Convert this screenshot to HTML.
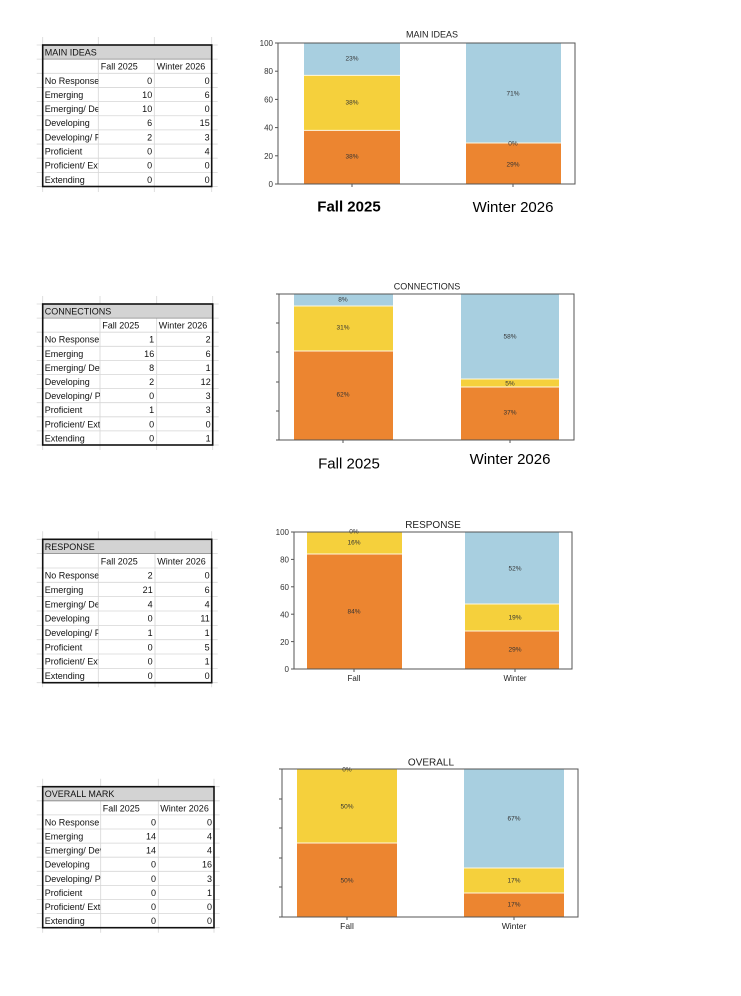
<!DOCTYPE html>
<html><head><meta charset="utf-8">
<style>
html,body{margin:0;padding:0;background:#fff;}
svg{display:block;}
text{font-family:"Liberation Sans",sans-serif;}
.tt{font-size:9px;fill:#111;}
.gx{stroke:#d6d6d6;stroke-width:0.8;}
.pl{font-size:6.5px;fill:#333;text-anchor:middle;}
.yl{font-size:8px;fill:#333;text-anchor:end;}
.sp{fill:none;stroke:#555;stroke-width:1;}
.tk{stroke:#555;stroke-width:1;}
.sep{stroke:#fff8e0;stroke-width:1;}
</style></head>
<body>
<svg width="741" height="996" viewBox="0 0 741 996" xmlns="http://www.w3.org/2000/svg">
<defs>
<clipPath id="c1a" clipPathUnits="userSpaceOnUse"><rect x="0" y="0" width="55.6" height="142"/></clipPath>
<clipPath id="c1b" clipPathUnits="userSpaceOnUse"><rect x="0" y="0" width="57.3" height="142"/></clipPath>
<clipPath id="c1d" clipPathUnits="userSpaceOnUse"><rect x="0" y="0" width="58" height="142"/></clipPath>
</defs>

<!-- ============ TABLE 1: MAIN IDEAS ============ -->
<g transform="translate(42.7,45)">
  <g class="gx">
    <line x1="-6" y1="0" x2="175" y2="0"/><line x1="-6" y1="14.15" x2="175" y2="14.15"/><line x1="-6" y1="28.3" x2="175" y2="28.3"/><line x1="-6" y1="42.45" x2="175" y2="42.45"/><line x1="-6" y1="56.6" x2="175" y2="56.6"/><line x1="-6" y1="70.75" x2="175" y2="70.75"/><line x1="-6" y1="84.9" x2="175" y2="84.9"/><line x1="-6" y1="99.05" x2="175" y2="99.05"/><line x1="-6" y1="113.2" x2="175" y2="113.2"/><line x1="-6" y1="127.35" x2="175" y2="127.35"/><line x1="-6" y1="141.5" x2="175" y2="141.5"/>
    <line x1="0" y1="-8" x2="0" y2="147"/><line x1="55.6" y1="-8" x2="55.6" y2="147"/><line x1="111.6" y1="-8" x2="111.6" y2="147"/><line x1="169" y1="-8" x2="169" y2="147"/>
  </g>
  <rect x="0" y="0" width="169" height="14.15" fill="#d3d3d3"/>
  <line x1="0" y1="14.15" x2="169" y2="14.15" stroke="#888" stroke-width="0.8"/>
  <rect x="0" y="0" width="169" height="141.5" fill="none" stroke="#111" stroke-width="1.6"/>
  <text class="tt" x="2" y="10.5">MAIN IDEAS</text>
  <text class="tt" x="58" y="24.6">Fall 2025</text>
  <text class="tt" x="114" y="24.6">Winter 2026</text>
  <g clip-path="url(#c1a)">
    <text class="tt" x="2" y="38.8">No Response</text>
    <text class="tt" x="2" y="52.9">Emerging</text>
    <text class="tt" x="2" y="67.1">Emerging/ Developing</text>
    <text class="tt" x="2" y="81.2">Developing</text>
    <text class="tt" x="2" y="95.4">Developing/ Proficient</text>
    <text class="tt" x="2" y="109.5">Proficient</text>
    <text class="tt" x="2" y="123.7">Proficient/ Extending</text>
    <text class="tt" x="2" y="137.8">Extending</text>
  </g>
  <g text-anchor="end">
    <text class="tt" x="109.5" y="38.8">0</text><text class="tt" x="167" y="38.8">0</text>
    <text class="tt" x="109.5" y="52.9">10</text><text class="tt" x="167" y="52.9">6</text>
    <text class="tt" x="109.5" y="67.1">10</text><text class="tt" x="167" y="67.1">0</text>
    <text class="tt" x="109.5" y="81.2">6</text><text class="tt" x="167" y="81.2">15</text>
    <text class="tt" x="109.5" y="95.4">2</text><text class="tt" x="167" y="95.4">3</text>
    <text class="tt" x="109.5" y="109.5">0</text><text class="tt" x="167" y="109.5">4</text>
    <text class="tt" x="109.5" y="123.7">0</text><text class="tt" x="167" y="123.7">0</text>
    <text class="tt" x="109.5" y="137.8">0</text><text class="tt" x="167" y="137.8">0</text>
  </g>
</g>

<!-- ============ TABLE 2: CONNECTIONS ============ -->
<g transform="translate(42.7,304)">
  <g class="gx">
    <line x1="-6" y1="0" x2="176" y2="0"/><line x1="-6" y1="14.1" x2="176" y2="14.1"/><line x1="-6" y1="28.2" x2="176" y2="28.2"/><line x1="-6" y1="42.3" x2="176" y2="42.3"/><line x1="-6" y1="56.4" x2="176" y2="56.4"/><line x1="-6" y1="70.5" x2="176" y2="70.5"/><line x1="-6" y1="84.6" x2="176" y2="84.6"/><line x1="-6" y1="98.7" x2="176" y2="98.7"/><line x1="-6" y1="112.8" x2="176" y2="112.8"/><line x1="-6" y1="126.9" x2="176" y2="126.9"/><line x1="-6" y1="141" x2="176" y2="141"/>
    <line x1="0" y1="-8" x2="0" y2="146"/><line x1="57.3" y1="-8" x2="57.3" y2="146"/><line x1="114" y1="-8" x2="114" y2="146"/><line x1="170" y1="-8" x2="170" y2="146"/>
  </g>
  <rect x="0" y="0" width="170" height="14.1" fill="#d3d3d3"/>
  <line x1="0" y1="14.1" x2="170" y2="14.1" stroke="#888" stroke-width="0.8"/>
  <rect x="0" y="0" width="170" height="141" fill="none" stroke="#111" stroke-width="1.6"/>
  <text class="tt" x="2" y="10.5">CONNECTIONS</text>
  <text class="tt" x="59.5" y="24.6">Fall 2025</text>
  <text class="tt" x="116" y="24.6">Winter 2026</text>
  <g clip-path="url(#c1b)">
    <text class="tt" x="2" y="38.7">No Response</text>
    <text class="tt" x="2" y="52.8">Emerging</text>
    <text class="tt" x="2" y="66.9">Emerging/ Developing</text>
    <text class="tt" x="2" y="81">Developing</text>
    <text class="tt" x="2" y="95.1">Developing/ Proficient</text>
    <text class="tt" x="2" y="109.2">Proficient</text>
    <text class="tt" x="2" y="123.3">Proficient/ Extending</text>
    <text class="tt" x="2" y="137.4">Extending</text>
  </g>
  <g text-anchor="end">
    <text class="tt" x="111.5" y="38.7">1</text><text class="tt" x="168" y="38.7">2</text>
    <text class="tt" x="111.5" y="52.8">16</text><text class="tt" x="168" y="52.8">6</text>
    <text class="tt" x="111.5" y="66.9">8</text><text class="tt" x="168" y="66.9">1</text>
    <text class="tt" x="111.5" y="81">2</text><text class="tt" x="168" y="81">12</text>
    <text class="tt" x="111.5" y="95.1">0</text><text class="tt" x="168" y="95.1">3</text>
    <text class="tt" x="111.5" y="109.2">1</text><text class="tt" x="168" y="109.2">3</text>
    <text class="tt" x="111.5" y="123.3">0</text><text class="tt" x="168" y="123.3">0</text>
    <text class="tt" x="111.5" y="137.4">0</text><text class="tt" x="168" y="137.4">1</text>
  </g>
</g>

<!-- ============ TABLE 3: RESPONSE ============ -->
<g transform="translate(42.7,539.3)">
  <g class="gx">
    <line x1="-6" y1="0" x2="175" y2="0"/><line x1="-6" y1="14.34" x2="175" y2="14.34"/><line x1="-6" y1="28.68" x2="175" y2="28.68"/><line x1="-6" y1="43.02" x2="175" y2="43.02"/><line x1="-6" y1="57.36" x2="175" y2="57.36"/><line x1="-6" y1="71.7" x2="175" y2="71.7"/><line x1="-6" y1="86.04" x2="175" y2="86.04"/><line x1="-6" y1="100.38" x2="175" y2="100.38"/><line x1="-6" y1="114.72" x2="175" y2="114.72"/><line x1="-6" y1="129.06" x2="175" y2="129.06"/><line x1="-6" y1="143.4" x2="175" y2="143.4"/>
    <line x1="0" y1="-8" x2="0" y2="148"/><line x1="55.6" y1="-8" x2="55.6" y2="148"/><line x1="112.3" y1="-8" x2="112.3" y2="148"/><line x1="169" y1="-8" x2="169" y2="148"/>
  </g>
  <rect x="0" y="0" width="169" height="14.34" fill="#d3d3d3"/>
  <line x1="0" y1="14.34" x2="169" y2="14.34" stroke="#888" stroke-width="0.8"/>
  <rect x="0" y="0" width="169" height="143.4" fill="none" stroke="#111" stroke-width="1.6"/>
  <text class="tt" x="2" y="10.6">RESPONSE</text>
  <text class="tt" x="58" y="25">Fall 2025</text>
  <text class="tt" x="114.5" y="25">Winter 2026</text>
  <g clip-path="url(#c1a)">
    <text class="tt" x="2" y="39.3">No Response</text>
    <text class="tt" x="2" y="53.7">Emerging</text>
    <text class="tt" x="2" y="68">Emerging/ Developing</text>
    <text class="tt" x="2" y="82.4">Developing</text>
    <text class="tt" x="2" y="96.7">Developing/ Proficient</text>
    <text class="tt" x="2" y="111">Proficient</text>
    <text class="tt" x="2" y="125.4">Proficient/ Extending</text>
  </g>
  <text class="tt" x="2" y="139.7">Extending</text>
  <g text-anchor="end">
    <text class="tt" x="110" y="39.3">2</text><text class="tt" x="167" y="39.3">0</text>
    <text class="tt" x="110" y="53.7">21</text><text class="tt" x="167" y="53.7">6</text>
    <text class="tt" x="110" y="68">4</text><text class="tt" x="167" y="68">4</text>
    <text class="tt" x="110" y="82.4">0</text><text class="tt" x="167" y="82.4">11</text>
    <text class="tt" x="110" y="96.7">1</text><text class="tt" x="167" y="96.7">1</text>
    <text class="tt" x="110" y="111">0</text><text class="tt" x="167" y="111">5</text>
    <text class="tt" x="110" y="125.4">0</text><text class="tt" x="167" y="125.4">1</text>
    <text class="tt" x="110" y="139.7">0</text><text class="tt" x="167" y="139.7">0</text>
  </g>
</g>

<!-- ============ TABLE 4: OVERALL MARK ============ -->
<g transform="translate(42.7,786.7)">
  <g class="gx">
    <line x1="-6" y1="0" x2="177" y2="0"/><line x1="-6" y1="14.1" x2="177" y2="14.1"/><line x1="-6" y1="28.2" x2="177" y2="28.2"/><line x1="-6" y1="42.3" x2="177" y2="42.3"/><line x1="-6" y1="56.4" x2="177" y2="56.4"/><line x1="-6" y1="70.5" x2="177" y2="70.5"/><line x1="-6" y1="84.6" x2="177" y2="84.6"/><line x1="-6" y1="98.7" x2="177" y2="98.7"/><line x1="-6" y1="112.8" x2="177" y2="112.8"/><line x1="-6" y1="126.9" x2="177" y2="126.9"/><line x1="-6" y1="141" x2="177" y2="141"/>
    <line x1="0" y1="-8" x2="0" y2="146"/><line x1="58" y1="-8" x2="58" y2="146"/><line x1="115.6" y1="-8" x2="115.6" y2="146"/><line x1="171.3" y1="-8" x2="171.3" y2="146"/>
  </g>
  <rect x="0" y="0" width="171.3" height="14.1" fill="#d3d3d3"/>
  <line x1="0" y1="14.1" x2="171.3" y2="14.1" stroke="#888" stroke-width="0.8"/>
  <rect x="0" y="0" width="171.3" height="141" fill="none" stroke="#111" stroke-width="1.6"/>
  <text class="tt" x="2" y="10.5">OVERALL MARK</text>
  <text class="tt" x="60" y="24.6">Fall 2025</text>
  <text class="tt" x="117.6" y="24.6">Winter 2026</text>
  <g clip-path="url(#c1d)">
    <text class="tt" x="2" y="38.7">No Response</text>
    <text class="tt" x="2" y="52.8">Emerging</text>
    <text class="tt" x="2" y="66.9">Emerging/ Developing</text>
    <text class="tt" x="2" y="81">Developing</text>
    <text class="tt" x="2" y="95.1">Developing/ Proficient</text>
    <text class="tt" x="2" y="109.2">Proficient</text>
    <text class="tt" x="2" y="123.3">Proficient/ Extending</text>
    <text class="tt" x="2" y="137.4">Extending</text>
  </g>
  <g text-anchor="end">
    <text class="tt" x="113.3" y="38.7">0</text><text class="tt" x="169.3" y="38.7">0</text>
    <text class="tt" x="113.3" y="52.8">14</text><text class="tt" x="169.3" y="52.8">4</text>
    <text class="tt" x="113.3" y="66.9">14</text><text class="tt" x="169.3" y="66.9">4</text>
    <text class="tt" x="113.3" y="81">0</text><text class="tt" x="169.3" y="81">16</text>
    <text class="tt" x="113.3" y="95.1">0</text><text class="tt" x="169.3" y="95.1">3</text>
    <text class="tt" x="113.3" y="109.2">0</text><text class="tt" x="169.3" y="109.2">1</text>
    <text class="tt" x="113.3" y="123.3">0</text><text class="tt" x="169.3" y="123.3">0</text>
    <text class="tt" x="113.3" y="137.4">0</text><text class="tt" x="169.3" y="137.4">0</text>
  </g>
</g>

<!-- ============ CHART 1: MAIN IDEAS ============ -->
<text x="432" y="37.5" font-size="9" fill="#222" text-anchor="middle">MAIN IDEAS</text>
<rect x="304" y="43" width="96" height="32.4" fill="#a8cfe0"/>
<rect x="304" y="75.4" width="96" height="55" fill="#f5d03c"/>
<rect x="304" y="130.4" width="96" height="53.6" fill="#ec8530"/>
<line class="sep" x1="304" y1="75.4" x2="400" y2="75.4"/>
<line class="sep" x1="304" y1="130.4" x2="400" y2="130.4"/>
<rect x="466" y="43" width="95" height="100" fill="#a8cfe0"/>
<rect x="466" y="143" width="95" height="41" fill="#ec8530"/>
<line class="sep" x1="466" y1="143" x2="561" y2="143"/>
<rect class="sp" x="278" y="43" width="297" height="141"/>
<g class="tk">
<line x1="275" y1="184" x2="278" y2="184"/><line x1="275" y1="155.8" x2="278" y2="155.8"/><line x1="275" y1="127.6" x2="278" y2="127.6"/><line x1="275" y1="99.4" x2="278" y2="99.4"/><line x1="275" y1="71.2" x2="278" y2="71.2"/><line x1="275" y1="43" x2="278" y2="43"/>
<line x1="352" y1="184" x2="352" y2="187"/><line x1="513" y1="184" x2="513" y2="187"/>
</g>
<text class="yl" x="273" y="187">0</text>
<text class="yl" x="273" y="158.8">20</text>
<text class="yl" x="273" y="130.6">40</text>
<text class="yl" x="273" y="102.4">60</text>
<text class="yl" x="273" y="74.2">80</text>
<text class="yl" x="273" y="46">100</text>
<text class="pl" x="352" y="60.5">23%</text>
<text class="pl" x="352" y="104.5">38%</text>
<text class="pl" x="352" y="158.5">38%</text>
<text class="pl" x="513" y="95.5">71%</text>
<text class="pl" x="513" y="145.5">0%</text>
<text class="pl" x="513" y="166.5">29%</text>
<text x="349" y="211.5" font-size="15" font-weight="bold" fill="#000" text-anchor="middle">Fall 2025</text>
<text x="513" y="212" font-size="15" fill="#000" text-anchor="middle">Winter 2026</text>

<!-- ============ CHART 2: CONNECTIONS ============ -->
<text x="427" y="289.5" font-size="9" fill="#222" text-anchor="middle">CONNECTIONS</text>
<rect x="294" y="294" width="99" height="12" fill="#a8cfe0"/>
<rect x="294" y="306" width="99" height="45" fill="#f5d03c"/>
<rect x="294" y="351" width="99" height="89" fill="#ec8530"/>
<line class="sep" x1="294" y1="306" x2="393" y2="306"/>
<line class="sep" x1="294" y1="351" x2="393" y2="351"/>
<rect x="461" y="294" width="98" height="85" fill="#a8cfe0"/>
<rect x="461" y="379" width="98" height="8" fill="#f5d03c"/>
<rect x="461" y="387" width="98" height="53" fill="#ec8530"/>
<line class="sep" x1="461" y1="379" x2="559" y2="379"/>
<line class="sep" x1="461" y1="387" x2="559" y2="387"/>
<rect class="sp" x="279" y="294" width="295" height="146"/>
<g class="tk">
<line x1="276" y1="294" x2="279" y2="294"/><line x1="276" y1="323" x2="279" y2="323"/><line x1="276" y1="352" x2="279" y2="352"/><line x1="276" y1="382" x2="279" y2="382"/><line x1="276" y1="411" x2="279" y2="411"/><line x1="276" y1="440" x2="279" y2="440"/>
<line x1="343" y1="440" x2="343" y2="443"/><line x1="510" y1="440" x2="510" y2="443"/>
</g>
<text class="pl" x="343" y="301.3" font-size="7">8%</text>
<text class="pl" x="343" y="329.5" font-size="7">31%</text>
<text class="pl" x="343" y="396.5" font-size="7">62%</text>
<text class="pl" x="510" y="338.5" font-size="7">58%</text>
<text class="pl" x="510" y="385.3" font-size="7">5%</text>
<text class="pl" x="510" y="414.5" font-size="7">37%</text>
<text x="349" y="468.5" font-size="15" fill="#000" text-anchor="middle">Fall 2025</text>
<text x="510" y="464" font-size="15" fill="#000" text-anchor="middle">Winter 2026</text>

<!-- ============ CHART 3: RESPONSE ============ -->
<text x="433" y="528" font-size="10" fill="#222" text-anchor="middle">RESPONSE</text>
<rect x="307" y="532" width="95" height="22" fill="#f5d03c"/>
<rect x="307" y="554" width="95" height="115" fill="#ec8530"/>
<line class="sep" x1="307" y1="554" x2="402" y2="554"/>
<rect x="465" y="532" width="94" height="72" fill="#a8cfe0"/>
<rect x="465" y="604" width="94" height="27" fill="#f5d03c"/>
<rect x="465" y="631" width="94" height="38" fill="#ec8530"/>
<line class="sep" x1="465" y1="604" x2="559" y2="604"/>
<line class="sep" x1="465" y1="631" x2="559" y2="631"/>
<rect class="sp" x="294" y="532" width="278" height="137"/>
<g class="tk">
<line x1="291" y1="669" x2="294" y2="669"/><line x1="291" y1="641.6" x2="294" y2="641.6"/><line x1="291" y1="614.2" x2="294" y2="614.2"/><line x1="291" y1="586.8" x2="294" y2="586.8"/><line x1="291" y1="559.4" x2="294" y2="559.4"/><line x1="291" y1="532" x2="294" y2="532"/>
<line x1="354" y1="669" x2="354" y2="672"/><line x1="515" y1="669" x2="515" y2="672"/>
</g>
<text class="yl" x="289" y="672.2">0</text>
<text class="yl" x="289" y="644.8">20</text>
<text class="yl" x="289" y="617.4">40</text>
<text class="yl" x="289" y="590">60</text>
<text class="yl" x="289" y="562.6">80</text>
<text class="yl" x="289" y="535.2">100</text>
<text class="pl" x="354" y="533.3">0%</text>
<text class="pl" x="354" y="544.3">16%</text>
<text class="pl" x="354" y="613.3">84%</text>
<text class="pl" x="515" y="570.3">52%</text>
<text class="pl" x="515" y="619.3">19%</text>
<text class="pl" x="515" y="651.3">29%</text>
<text x="354" y="681" font-size="8" fill="#222" text-anchor="middle">Fall</text>
<text x="515" y="681" font-size="8" fill="#222" text-anchor="middle">Winter</text>

<!-- ============ CHART 4: OVERALL ============ -->
<text x="431" y="765.5" font-size="10" fill="#222" text-anchor="middle">OVERALL</text>
<rect x="297" y="769" width="100" height="74" fill="#f5d03c"/>
<rect x="297" y="843" width="100" height="74" fill="#ec8530"/>
<line class="sep" x1="297" y1="843" x2="397" y2="843"/>
<rect x="464" y="769" width="100" height="99" fill="#a8cfe0"/>
<rect x="464" y="868" width="100" height="25" fill="#f5d03c"/>
<rect x="464" y="893" width="100" height="24" fill="#ec8530"/>
<line class="sep" x1="464" y1="868" x2="564" y2="868"/>
<line class="sep" x1="464" y1="893" x2="564" y2="893"/>
<rect class="sp" x="282" y="769" width="296" height="148"/>
<g class="tk">
<line x1="279" y1="769" x2="282" y2="769"/><line x1="279" y1="799" x2="282" y2="799"/><line x1="279" y1="828" x2="282" y2="828"/><line x1="279" y1="858" x2="282" y2="858"/><line x1="279" y1="887" x2="282" y2="887"/><line x1="279" y1="917" x2="282" y2="917"/>
<line x1="347" y1="917" x2="347" y2="920"/><line x1="514" y1="917" x2="514" y2="920"/>
</g>
<text class="pl" x="347" y="771.5" font-size="7.5">0%</text>
<text class="pl" x="347" y="808.6" font-size="7.5">50%</text>
<text class="pl" x="347" y="882.6" font-size="7.5">50%</text>
<text class="pl" x="514" y="820.6" font-size="7.5">67%</text>
<text class="pl" x="514" y="882.6" font-size="7.5">17%</text>
<text class="pl" x="514" y="906.6" font-size="7.5">17%</text>
<text x="347" y="929" font-size="8.5" fill="#222" text-anchor="middle">Fall</text>
<text x="514" y="929" font-size="8.5" fill="#222" text-anchor="middle">Winter</text>
</svg>
</body></html>
